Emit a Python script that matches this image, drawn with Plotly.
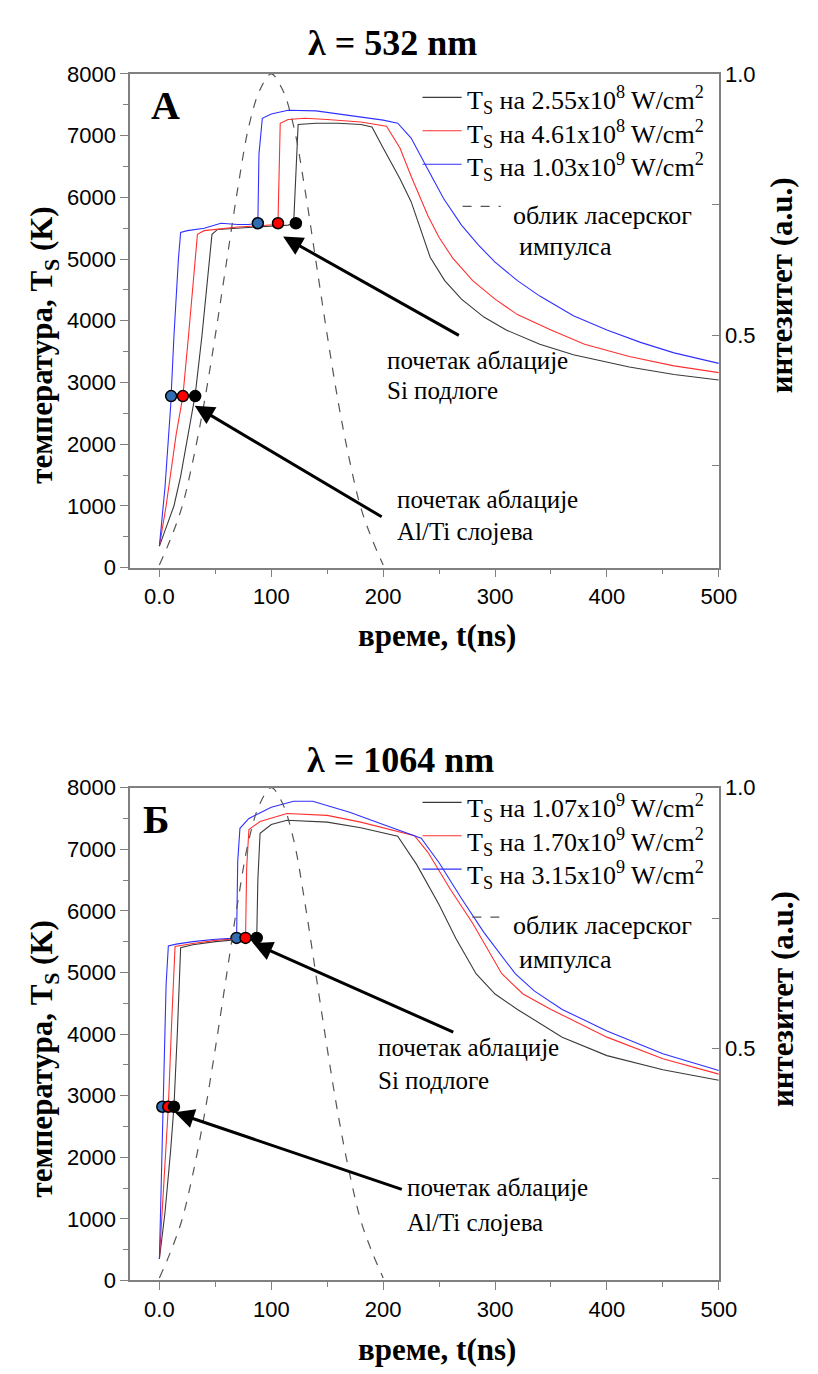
import plotly.graph_objects as go

W, H = 818, 1374

# ---------------- DATA ----------------
# λ = 532 nm panel
t532_black = [0, 13, 19, 26, 32, 38, 43, 47, 52, 70, 90, 105, 115, 120, 122, 124, 140, 160, 180, 190, 200, 215, 225, 242, 255, 270, 290, 310, 340, 370, 420, 460, 500]
T532_black = [350, 1000, 1480, 2160, 2800, 3750, 4700, 5400, 5480, 5500, 5520, 5530, 5550, 5580, 6500, 7180, 7200, 7200, 7180, 7140, 6800, 6300, 5930, 5030, 4650, 4350, 4060, 3850, 3620, 3450, 3250, 3130, 3040]
t532_red = [0, 6, 15, 21, 26, 30, 34, 40, 50, 70, 90, 104, 106, 108, 115, 130, 150, 180, 203, 215, 225, 240, 250, 262, 280, 300, 320, 350, 380, 420, 460, 500]
T532_red = [350, 1000, 2160, 2780, 3750, 4600, 5400, 5460, 5480, 5520, 5540, 5560, 5580, 7200, 7260, 7280, 7260, 7220, 7150, 6800, 6340, 5700, 5350, 5020, 4650, 4350, 4100, 3850, 3620, 3420, 3270, 3160]
t532_blue = [0, 5, 10, 13, 17, 19, 25, 40, 55, 70, 80, 88, 89, 92, 100, 115, 140, 170, 200, 213, 225, 240, 254, 270, 285, 300, 320, 340, 370, 400, 430, 460, 500]
T532_blue = [350, 1300, 2600, 3750, 5000, 5430, 5460, 5500, 5580, 5560, 5560, 5580, 6700, 7280, 7350, 7410, 7400, 7330, 7250, 7200, 6960, 6450, 5980, 5550, 5230, 4950, 4650, 4400, 4080, 3850, 3650, 3480, 3310]
dots532_low_t = [10.5, 21, 32]
dots532_low_T = [2780, 2780, 2780]
dots532_high_t = [88, 106, 122]
dots532_high_T = [5580, 5580, 5580]

# λ = 1064 nm panel
t1064_black = [0, 5, 10, 13, 16, 19, 30, 50, 87, 88, 90, 100, 114, 150, 180, 213, 230, 250, 265, 283, 300, 320, 360, 400, 450, 500]
T1064_black = [350, 1100, 2100, 2820, 4000, 5400, 5450, 5500, 5560, 6500, 7260, 7400, 7470, 7440, 7350, 7210, 6750, 6100, 5550, 4980, 4650, 4400, 3950, 3650, 3420, 3250]
t1064_red = [0, 4, 8, 11, 14, 30, 50, 77, 78, 80, 90, 114, 150, 180, 205, 228, 240, 260, 280, 306, 325, 350, 400, 450, 500]
T1064_red = [350, 1600, 2820, 4200, 5420, 5470, 5520, 5560, 6700, 7320, 7450, 7580, 7550, 7440, 7330, 7220, 6950, 6350, 5800, 4980, 4650, 4400, 3950, 3600, 3350]
t1064_blue = [0, 3, 6, 8, 15, 30, 50, 69, 70, 72, 80, 100, 120, 137, 170, 200, 234, 250, 270, 290, 318, 335, 360, 400, 450, 500]
T1064_blue = [350, 2820, 4800, 5430, 5460, 5500, 5540, 5560, 6800, 7340, 7500, 7680, 7780, 7780, 7600, 7400, 7180, 6780, 6200, 5650, 4980, 4700, 4400, 4050, 3680, 3410]
dots1064_low_t = [2.6, 7.9, 13]
dots1064_low_T = [2820, 2820, 2820]
dots1064_high_t = [69, 77, 87]
dots1064_high_T = [5560, 5560, 5560]

# laser pulse shape (normalised intensity)
t_pulse = [0, 10, 20, 30, 40, 50, 60, 70, 80, 90, 100, 110, 120, 130, 140, 150, 160, 170, 180, 190, 200]
I_pulse = [0.06, 0.11, 0.17, 0.26, 0.37, 0.50, 0.64, 0.78, 0.90, 0.97, 1.00, 0.97, 0.90, 0.78, 0.64, 0.50, 0.37, 0.26, 0.17, 0.11, 0.06]

legend532 = ["T<sub>S</sub> на 2.55x10<sup>8</sup> W/cm<sup>2</sup>",
             "T<sub>S</sub> на 4.61x10<sup>8</sup> W/cm<sup>2</sup>",
             "T<sub>S</sub> на 1.03x10<sup>9</sup> W/cm<sup>2</sup>"]
legend1064 = ["T<sub>S</sub> на 1.07x10<sup>9</sup> W/cm<sup>2</sup>",
              "T<sub>S</sub> на 1.70x10<sup>9</sup> W/cm<sup>2</sup>",
              "T<sub>S</sub> на 3.15x10<sup>9</sup> W/cm<sup>2</sup>"]

x_ticks = [0, 100, 200, 300, 400, 500]
x_ticktext = ["0.0", "100", "200", "300", "400", "500"]

# ---------------- STYLE ----------------
C_BLACK = "#3a3a3a"
C_RED = "#ff3030"
C_BLUE = "#3030ff"
C_DOT_BLUE = "#2f6db5"
SERIF = "Liberation Serif"
SANS = "Liberation Sans"
AXC = "#808080"

def px(x):
    return x / W

def py(y):
    return 1 - y / H

fig = go.Figure()

panels = [
    dict(xa="x", ya="y", ya2="y2",
         series=[(t532_black, T532_black, C_BLACK), (t532_red, T532_red, C_RED), (t532_blue, T532_blue, C_BLUE)],
         low=(dots532_low_t, dots532_low_T), high=(dots532_high_t, dots532_high_T)),
    dict(xa="x2", ya="y3", ya2="y4",
         series=[(t1064_black, T1064_black, C_BLACK), (t1064_red, T1064_red, C_RED), (t1064_blue, T1064_blue, C_BLUE)],
         low=(dots1064_low_t, dots1064_low_T), high=(dots1064_high_t, dots1064_high_T)),
]
dot_fill = [C_DOT_BLUE, "#ff0000", "#000000"]

for p in panels:
    fig.add_trace(go.Scatter(x=t_pulse, y=I_pulse, mode="lines", line=dict(color="#555555", width=1.2, dash="dash", shape="spline"),
                             xaxis=p["xa"], yaxis=p["ya2"], showlegend=False, hoverinfo="skip"))
    for (tx, ty, c) in p["series"]:
        fig.add_trace(go.Scatter(x=tx, y=ty, mode="lines", line=dict(color=c, width=1.1),
                                 xaxis=p["xa"], yaxis=p["ya"], showlegend=False))
    for (dt, dT) in (p["low"], p["high"]):
        # order: blue, red, black
        fig.add_trace(go.Scatter(x=dt, y=dT, mode="markers",
                                 marker=dict(size=11, color=dot_fill, line=dict(color="black", width=1.5)),
                                 xaxis=p["xa"], yaxis=p["ya"], showlegend=False))

xdom = [px(133), px(735)]
dom_top = [py(566), py(63)]
dom_bot = [py(1292), py(790)]

def xaxis_cfg(anchor, domain):
    return dict(domain=domain, anchor=anchor, range=[-26.2, 500], tickvals=x_ticks, ticktext=x_ticktext,
                ticks="outside", ticklen=8, tickwidth=1, tickcolor=AXC,
                minor=dict(dtick=50, tick0=0, ticks="outside", ticklen=5, tickcolor=AXC),
                showline=True, linecolor=AXC, linewidth=1.5, mirror=True, showgrid=False, zeroline=False,
                tickfont=dict(family=SANS, size=22, color="black"))

def yaxis_cfg(anchor, domain):
    return dict(domain=domain, anchor=anchor, range=[0, 8000], dtick=1000, tick0=0,
                ticks="outside", ticklen=8, tickwidth=1, tickcolor=AXC,
                minor=dict(dtick=500, tick0=0, ticks="outside", ticklen=5, tickcolor=AXC),
                showline=True, linecolor=AXC, linewidth=1.5, showgrid=False, zeroline=False,
                tickfont=dict(family=SANS, size=22, color="black"))

def yaxis2_cfg(anchor, overlay):
    return dict(overlaying=overlay, anchor=anchor, side="right", range=[0.055, 1.0],
                tickvals=[0.25, 0.5, 0.75, 1.0], ticktext=["", "0.5", "", "1.0"],
                ticks="inside", ticklen=7, tickcolor=AXC,
                showline=True, linecolor=AXC, linewidth=1.5, showgrid=False, zeroline=False,
                tickfont=dict(family=SANS, size=22, color="black"))

fig.update_layout(
    width=W, height=H, margin=dict(l=0, r=0, t=0, b=0),
    paper_bgcolor="white", plot_bgcolor="white", showlegend=False,
    xaxis=xaxis_cfg("y", xdom),
    yaxis=yaxis_cfg("x", dom_top),
    yaxis2=yaxis2_cfg("x", "y"),
    xaxis2=xaxis_cfg("y3", xdom),
    yaxis3=yaxis_cfg("x2", dom_bot),
    yaxis4=yaxis2_cfg("x2", "y3"),
)

ann = []
shapes = []

def text(x, y, s, size, bold=False, family=SERIF, xanchor="left", angle=0):
    ann.append(dict(x=px(x), y=py(y), xref="paper", yref="paper", text=("<b>%s</b>" % s) if bold else s,
                    showarrow=False, xanchor=xanchor, yanchor="middle", textangle=angle,
                    font=dict(family=family, size=size, color="black")))

# titles
text(401, 32, "λ = 532 nm", 36, bold=True, xanchor="center")
text(410, 762, "λ = 1064 nm", 36, bold=True, xanchor="center")
# panel letters
text(169, 95, "А", 40, bold=True, xanchor="center")
text(160, 822, "Б", 40, bold=True, xanchor="center")

for off in (0, 727):
    text(447, 635 + off, "време, t(ns)", 31, bold=True, xanchor="center")
    text(45, 340 + off, "температура, T<sub>S</sub> (K)", 31, bold=True, xanchor="center", angle=-90)
    text(800, 278 + off, "интезитет (a.u.)", 31, bold=True, xanchor="center", angle=-90)

# legends
def legend(items, ys, line_y_off, dash_y, txt1_y, txt2_y, dash_x0, dash_x1):
    for (s, y, c) in zip(items, ys, [C_BLACK, C_RED, C_BLUE]):
        shapes.append(dict(type="line", xref="paper", yref="paper", x0=px(432), x1=px(472),
                           y0=py(y + line_y_off), y1=py(y + line_y_off), line=dict(color=c, width=1.1)))
        text(475, y, s, 26)
    shapes.append(dict(type="line", xref="paper", yref="paper", x0=px(dash_x0), x1=px(dash_x1),
                       y0=py(dash_y), y1=py(dash_y), line=dict(color="#555555", width=1.2, dash="dash")))
    text(522, txt1_y, "облик ласерског", 26)
    text(529, txt2_y, "импулса", 26)

legend(legend532, [90, 124, 158], -3, 198, 207, 239, 473, 512)
legend(legend1064, [811, 845, 879], -6, 922, 930, 965, 483, 517)

# annotations text
text(394, 355, "почетак аблације", 25)
text(394, 386, "Si подлоге", 25)
text(404, 497, "почетак аблације", 25)
text(404, 529, "Al/Ti слојева", 25)
text(384, 1055, "почетак аблације", 25)
text(384, 1088, "Si подлоге", 25)
text(414, 1197, "почетак аблације", 25)
text(414, 1233, "Al/Ti слојева", 25)

# arrows (tip, tail in data coords)
arrows = [("x", "y", 109, 5380, 269, 3750),
          ("x", "y", 30, 2640, 200, 810),
          ("x2", "y3", 82, 5490, 264, 4020),
          ("x2", "y3", 12, 2740, 218, 1470)]
for (xr, yr, x0, y0, x1, y1) in arrows:
    ann.append(dict(x=x0, y=y0, ax=x1, ay=y1, xref=xr, yref=yr, axref=xr, ayref=yr, text="",
                    showarrow=True, arrowhead=2, arrowsize=1.3, arrowwidth=3, arrowcolor="black", standoff=2))

fig.update_layout(annotations=ann, shapes=shapes)
fig.write_html("out.html", config={"displayModeBar": False},
               post_script="document.body.style.margin='0px';document.body.style.padding='0px';")
